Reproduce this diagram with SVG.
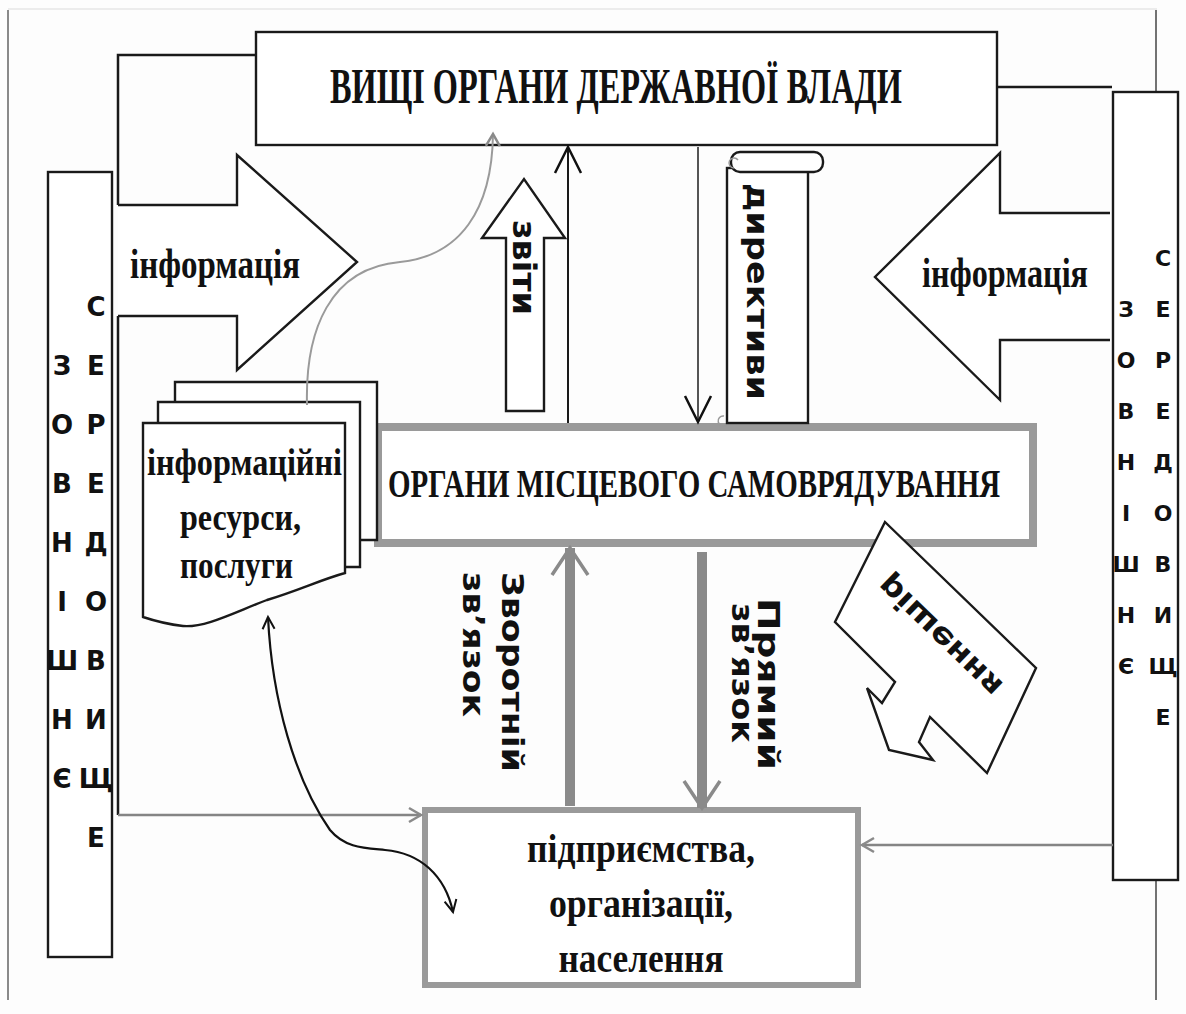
<svg xmlns="http://www.w3.org/2000/svg" width="1186" height="1014" viewBox="0 0 1186 1014">
<style>
.ln{fill:none;stroke:#1a1a1a;stroke-width:2.5}
.thin{fill:none;stroke:#1a1a1a;stroke-width:2}
.shape{fill:#fff;stroke:#1a1a1a;stroke-width:2.4}
.gbox{fill:#fff;stroke:#9a9a9a;stroke-width:8}
.gconn{fill:none;stroke:#858585;stroke-width:2.5}
.gthick{fill:none;stroke:#8a8a8a;stroke-width:10}
.serif{font-family:"Liberation Serif","Times New Roman",serif;font-weight:bold;fill:#111}
.sans{font-family:"DejaVu Sans","Liberation Sans",sans-serif;font-weight:bold;fill:#111}
.envL{font-family:"DejaVu Sans","Liberation Sans",sans-serif;font-weight:bold;font-size:26px;text-anchor:middle;fill:#111}
.envR{font-family:"DejaVu Sans","Liberation Sans",sans-serif;font-weight:bold;font-size:22px;text-anchor:middle;fill:#111}
</style>
<defs>
<marker id="vb" markerUnits="userSpaceOnUse" markerWidth="36" markerHeight="40" viewBox="-32 -20 36 40" refX="0" refY="0" orient="auto">
<path d="M-26,-13 L0,0 L-26,13" fill="none" stroke="#111" stroke-width="2.5"/>
</marker>
<marker id="vg" markerUnits="userSpaceOnUse" markerWidth="36" markerHeight="44" viewBox="-32 -22 36 44" refX="0" refY="0" orient="auto">
<path d="M-27,-18 L0,0 L-27,18" fill="none" stroke="#8a8a8a" stroke-width="3.5"/>
</marker>
<marker id="vs" markerUnits="userSpaceOnUse" markerWidth="20" markerHeight="20" viewBox="-16 -10 20 20" refX="0" refY="0" orient="auto">
<path d="M-12,-7 L0,0 L-12,7" fill="none" stroke="#8a8a8a" stroke-width="2.5"/>
</marker>
<marker id="vk" markerUnits="userSpaceOnUse" markerWidth="20" markerHeight="20" viewBox="-16 -10 20 20" refX="0" refY="0" orient="auto-start-reverse">
<path d="M-12,-6 L0,0 L-12,6" fill="none" stroke="#111" stroke-width="2"/>
</marker>
</defs>

<rect width="1186" height="1014" fill="#fdfdfd"/>

<!-- page frame -->
<g id="frame">
<line x1="8" y1="9" x2="1157" y2="9" stroke="#e6e6e6" stroke-width="1.5"/>
<line x1="8" y1="10" x2="8" y2="1000" stroke="#8a8a8a" stroke-width="2"/>
<line x1="1156" y1="10" x2="1156" y2="92" stroke="#444" stroke-width="1.5"/>
<line x1="1156" y1="880" x2="1156" y2="1000" stroke="#444" stroke-width="1.5"/>
</g>

<!-- higher state authorities -->
<g id="state-bodies">
<rect class="shape" x="256" y="32" width="741" height="113" stroke-width="2.8"/>
<text class="serif" transform="translate(330,103) scale(0.644,1)" font-size="50" textLength="888" lengthAdjust="spacingAndGlyphs">ВИЩІ ОРГАНИ ДЕРЖАВНОЇ ВЛАДИ</text>
</g>

<!-- incoming information, left -->
<g id="info-left">
<path class="shape" d="M118,205 L237,205 L237,155 L357,262 L237,370 L237,316 L118,316"/>
<text class="serif" x="130" y="278" font-size="42" textLength="170" lengthAdjust="spacingAndGlyphs">інформація</text>
</g>

<!-- incoming information, right -->
<g id="info-right">
<path class="shape" d="M1110,213 L1000,213 L1000,153 L875,277 L1000,400 L1000,340 L1110,340"/>
<text class="serif" x="922" y="287" font-size="42" textLength="166" lengthAdjust="spacingAndGlyphs">інформація</text>
</g>

<!-- external environment, left -->
<g id="env-left">
<rect class="shape" x="48" y="172" width="64" height="785" stroke-width="2"/>
<text class="envL" x="62" y="375">З</text>
<text class="envL" x="62" y="434">О</text>
<text class="envL" x="62" y="493">В</text>
<text class="envL" x="62" y="552">Н</text>
<text class="envL" x="62" y="611">І</text>
<text class="envL" x="62" y="670">Ш</text>
<text class="envL" x="62" y="729">Н</text>
<text class="envL" x="62" y="788">Є</text>
<text class="envL" x="96" y="316">С</text>
<text class="envL" x="96" y="375">Е</text>
<text class="envL" x="96" y="434">Р</text>
<text class="envL" x="96" y="493">Е</text>
<text class="envL" x="96" y="552">Д</text>
<text class="envL" x="96" y="611">О</text>
<text class="envL" x="96" y="670">В</text>
<text class="envL" x="96" y="729">И</text>
<text class="envL" x="96" y="788">Щ</text>
<text class="envL" x="96" y="847">Е</text>
</g>

<!-- external environment, right -->
<g id="env-right">
<rect class="shape" x="1113" y="92" width="65" height="788" stroke-width="2"/>
<text class="envR" x="1126" y="317">З</text>
<text class="envR" x="1126" y="368">О</text>
<text class="envR" x="1126" y="419">В</text>
<text class="envR" x="1126" y="470">Н</text>
<text class="envR" x="1126" y="521">І</text>
<text class="envR" x="1126" y="572">Ш</text>
<text class="envR" x="1126" y="623">Н</text>
<text class="envR" x="1126" y="674">Є</text>
<text class="envR" x="1163" y="266">С</text>
<text class="envR" x="1163" y="317">Е</text>
<text class="envR" x="1163" y="368">Р</text>
<text class="envR" x="1163" y="419">Е</text>
<text class="envR" x="1163" y="470">Д</text>
<text class="envR" x="1163" y="521">О</text>
<text class="envR" x="1163" y="572">В</text>
<text class="envR" x="1163" y="623">И</text>
<text class="envR" x="1163" y="674">Щ</text>
<text class="envR" x="1163" y="725">Е</text>
</g>

<!-- local self-government -->
<g id="local-government">
<rect class="gbox" x="378" y="427" width="655" height="116"/>
<text class="serif" transform="translate(388,497) scale(0.716,1)" font-size="40" textLength="855" lengthAdjust="spacingAndGlyphs">ОРГАНИ МІСЦЕВОГО САМОВРЯДУВАННЯ</text>
</g>

<!-- information resources: stacked documents -->
<g id="info-resources">
<path class="shape" stroke-width="2" d="M175,410 L175,382 L377,382 L377,540 L355,540 L355,410 Z"/>
<path class="shape" stroke-width="2" d="M158,430 L158,402 L360,402 L360,567 L340,567 L340,430 Z"/>
<path class="shape" stroke-width="2" d="M143,423 L345,423 L345,573 C320,580 300,590 267,600 C235,612 205,628 183,626 C165,624 152,620 143,617 Z"/>
<text class="serif" x="147" y="475" font-size="38" textLength="195" lengthAdjust="spacingAndGlyphs">інформаційні</text>
<text class="serif" x="180" y="530" font-size="38" textLength="121" lengthAdjust="spacingAndGlyphs">ресурси,</text>
<text class="serif" x="180" y="578" font-size="38" textLength="113" lengthAdjust="spacingAndGlyphs">послуги</text>
</g>

<!-- reports -->
<g id="reports">
<path class="shape" stroke-width="2" d="M506,411 L506,238 L482,238 L524,179 L565,238 L544,238 L544,411 Z"/>
<text class="sans" transform="translate(513,220) rotate(90)" font-size="32" textLength="95" lengthAdjust="spacingAndGlyphs">звіти</text>
</g>

<!-- directives scroll -->
<g id="directives">
<rect class="shape" x="727" y="168" width="81" height="255" stroke-width="2"/>
<rect class="shape" x="731" y="152" width="92" height="20" rx="9" stroke-width="2"/>
<path d="M738,160 a5,5 0 1 0 -4,8" fill="none" stroke="#999" stroke-width="1.5"/>
<path d="M724,416 a5,5 0 1 0 2,9" fill="none" stroke="#999" stroke-width="1.5"/>
<text class="sans" transform="translate(747,183) rotate(90)" font-size="30" textLength="217" lengthAdjust="spacingAndGlyphs">директиви</text>
</g>

<!-- feedback labels -->
<g id="feedback-label">
<text class="sans" transform="translate(502,572) rotate(90)" font-size="30" textLength="200" lengthAdjust="spacingAndGlyphs">Зворотній</text>
<text class="sans" transform="translate(463,572) rotate(90)" font-size="30" textLength="145" lengthAdjust="spacingAndGlyphs">зв’язок</text>
</g>
<g id="direct-label">
<text class="sans" transform="translate(758,598) rotate(90)" font-size="30" textLength="172" lengthAdjust="spacingAndGlyphs">Прямий</text>
<text class="sans" transform="translate(732,603) rotate(90)" font-size="30" textLength="140" lengthAdjust="spacingAndGlyphs">зв’язок</text>
</g>

<!-- decisions -->
<g id="decisions">
<path class="shape" stroke-width="2" d="M885,522 L1036,668 L987,773 L930,717 L919,742 L933,760 L889,750 L867,688 L882,703 L895,682 L835,622 Z"/>
<text class="sans" transform="translate(940,636) rotate(44) scale(1,-1)" x="0" y="10" text-anchor="middle" font-size="30" textLength="160" lengthAdjust="spacingAndGlyphs">рішення</text>
</g>

<!-- enterprises, organisations, population -->
<g id="enterprises">
<rect x="425" y="810" width="433" height="175" fill="#fff" stroke="#9a9a9a" stroke-width="6"/>
<text class="serif" x="641" y="862" font-size="40" text-anchor="middle" textLength="228" lengthAdjust="spacingAndGlyphs">підприємства,</text>
<text class="serif" x="641" y="917" font-size="40" text-anchor="middle" textLength="184" lengthAdjust="spacingAndGlyphs">організації,</text>
<text class="serif" x="641" y="972" font-size="40" text-anchor="middle" textLength="165" lengthAdjust="spacingAndGlyphs">населення</text>
</g>

<!-- connectors -->
<g id="connectors">
<path class="ln" d="M256,55 L118,55 L118,205"/>
<path class="ln" d="M118,316 L118,815"/>
<path class="gconn" d="M118,815 L421,815" marker-end="url(#vs)"/>
<path class="ln" d="M997,87 L1112,87"/>
<path class="gconn" d="M1113,845 L862,845" marker-end="url(#vs)"/>
<path class="thin" d="M568,423 L568,147" marker-end="url(#vb)"/>
<path d="M698,147 L698,422" fill="none" stroke="#555" stroke-width="2" marker-end="url(#vb)"/>
<path class="gthick" d="M570,806 L570,548" marker-end="url(#vg)"/>
<path class="gthick" d="M702,552 L702,808" marker-end="url(#vg)"/>
<path d="M307,405 C305,330 330,268 400,262 C460,256 492,210 493,134" fill="none" stroke="#9a9a9a" stroke-width="2" marker-end="url(#vs)"/>
<path d="M268,617 C272,700 295,780 330,830 C345,848 365,848 385,850 C420,853 445,875 453,912" fill="none" stroke="#111" stroke-width="2.2" marker-start="url(#vk)" marker-end="url(#vk)"/>
</g>
</svg>
